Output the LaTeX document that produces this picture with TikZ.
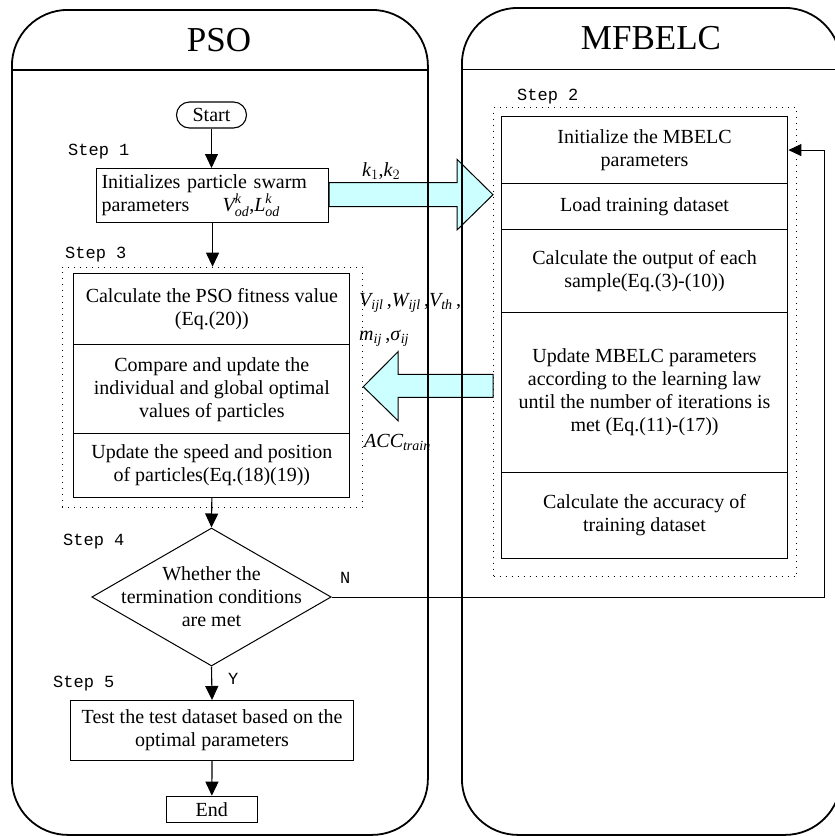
\documentclass[tikz,border=0pt]{standalone}
\usepackage{amsmath}
\usepackage{fontspec}
\setmainfont{Liberation Serif}
\newfontfamily\stepfont{Liberation Mono}
\usetikzlibrary{arrows.meta,shapes.geometric}
\definecolor{arrowcyan}{RGB}{204,255,255}
\begin{document}
\begin{tikzpicture}[x=1pt,y=-1pt,
  box/.style={draw, line width=1.1pt, inner sep=0pt, align=center, anchor=north west,
    font=\fontsize{20}{23}\selectfont},
  dotbox/.style={draw, line width=1pt, dash pattern=on 1pt off 5pt, inner sep=0pt, anchor=north west},
  steplbl/.style={font=\stepfont\fontsize{17}{20}\selectfont, inner sep=0pt, anchor=west},
  mlbl/.style={font=\fontsize{20}{23}\selectfont, inner sep=0pt, anchor=west},
  title/.style={font=\fontsize{35}{40}\selectfont, inner sep=0pt},
  lane/.style={draw, line width=1.8pt, rounded corners=56pt, inner sep=0pt, anchor=north west},
  flow/.style={-{Triangle[length=14pt,width=13pt]}, line width=1.1pt},
  fat/.style={draw, fill=arrowcyan, line width=1pt, line join=miter}
]
\useasboundingbox (0,0) rectangle (835,836);

% ---------- PSO lane content ----------
\node[draw, line width=1.1pt, rounded corners=13pt, minimum width=70pt, minimum height=26pt,
  inner sep=0pt, font=\fontsize{20}{23}\selectfont] (start) at (211.5,115) {Start};
\node[steplbl] (st1) at (68,152) {Step 1};
\node[box, minimum width=232pt, minimum height=54pt, text width=222pt, inner xsep=5pt, align=left]
  (init) at (96,168) {Initializes particle swarm\\parameters\quad\ \ $\textit{V}^{\textit{k}}_{\textit{od}}$,$\textit{L}^{\textit{k}}_{\textit{od}}$};
\node[steplbl] (st3) at (65,255) {Step 3};
\node[dotbox, minimum width=300.6pt, minimum height=240pt] (s3dot) at (61.7,266.7) {};
\node[box, minimum width=276pt, minimum height=71pt] (p1) at (73.3,273.3)
  {Calculate the PSO fitness value\\(Eq.(20))};
\node[box, minimum width=276pt, minimum height=89pt] (p2) at (73.3,344.3)
  {Compare and update the\\individual and global optimal\\values of particles};
\node[box, minimum width=276pt, minimum height=63.4pt] (p3) at (73.3,433.3)
  {Update the speed and position\\of particles(Eq.(18)(19))};
\node[steplbl] (st4) at (63,542) {Step 4};
\node[draw, diamond, line width=1pt, minimum width=239.4pt, minimum height=138pt, inner sep=0pt]
  (dia) at (211.5,597) {};
\node[align=center, inner sep=0pt, font=\fontsize{20}{23}\selectfont] (diatext) at (dia.center)
  {Whether the\\termination conditions\\are met};
\node[steplbl] (nlbl) at (340,578) {N};
\node[steplbl] (ylbl) at (228,679) {Y};
\node[steplbl] (st5) at (53,684) {Step 5};
\node[box, minimum width=283pt, minimum height=60pt] (test) at (70,700)
  {Test the test dataset based on the\\optimal parameters};
\node[box, minimum width=91.4pt, minimum height=26.3pt] (endn) at (165.6,795.7) {End};

% ---------- MFBELC lane content ----------
\node[steplbl] (st2) at (517,97) {Step 2};
\node[dotbox, minimum width=303pt, minimum height=469pt] (s2dot) at (493,107) {};
\node[box, minimum width=286.6pt, minimum height=67.6pt] (r1) at (500.7,115.7)
  {Initialize the MBELC\\parameters};
\node[box, minimum width=286.6pt, minimum height=46pt] (r2) at (500.7,183.3)
  {Load training dataset};
\node[box, minimum width=286.6pt, minimum height=82.2pt] (r3) at (500.7,229.3)
  {Calculate the output of each\\sample(Eq.(3)-(10))};
\node[box, minimum width=286.6pt, minimum height=160.2pt] (r4) at (500.7,311.5)
  {Update MBELC parameters\\according to the learning law\\until the number of iterations is\\met (Eq.(11)-(17))};
\node[box, minimum width=286.6pt, minimum height=86pt] (r5) at (500.7,471.7)
  {Calculate the accuracy of\\training dataset};

% ---------- fat arrows ----------
\draw[fat] (init.east |- 0,182.7) -- (457,182.7) -- (457,159.3) -- (s2dot.west |- 0,194.7)
  -- (457,230) -- (457,206.7) -- (init.east |- 0,206.7) -- cycle;
\draw[fat] (s2dot.west |- 0,374.3) -- (398,374.3) -- (398,351.7) -- (s3dot.east |- 0,386.7)
  -- (398,420.7) -- (398,397.3) -- (s2dot.west |- 0,397.3) -- cycle;
\node[mlbl] (klbl) at (362,171) {$\textit{k}_{1}$,$\textit{k}_{2}$};
\node[mlbl] (vlbl) at (359,303) {$\textit{V}_{\textit{ijl}}$\,,$\textit{W}_{\textit{ijl}}$\,,$\textit{V}_{\textit{th}}$\,,};
\node[mlbl] (mlbl2) at (359,338) {$\textit{m}_{\textit{ij}}$\,,\textit{σ}$_{\textit{ij}}$};
\node[mlbl] (acclbl) at (364,442) {$\textit{ACC}_{\textit{train}}$};

% ---------- flow connectors ----------
\draw[flow] (start.south) -- (init.north -| start.south);
\draw[flow] (init.south) -- (init.south |- s3dot.north);
\draw[flow] (p3.south) -- (dia.north);
\draw[flow] (dia.south) -- (test.north);
\draw[flow] (test.south) -- (endn.north);
\coordinate (nturn) at (824,597);
\draw[-{Triangle[length=13pt,width=12pt]}, line width=1pt] (dia.east) -- (nturn) |- (r1.east);

% ---------- lanes ----------
\node[lane, minimum width=416pt, minimum height=825pt] (psolane) at (11,9) {};
\draw[line width=1.8pt] (11,70) -- (427,70);
\node[title] (psot) at (219,40) {PSO};
\node[lane, minimum width=379pt, minimum height=827pt] (mflane) at (461,7) {};
\draw[line width=1.8pt] (461,69.5) -- (840,69.5);
\node[title] (mft) at (651,38) {MFBELC};
\end{tikzpicture}
\end{document}
